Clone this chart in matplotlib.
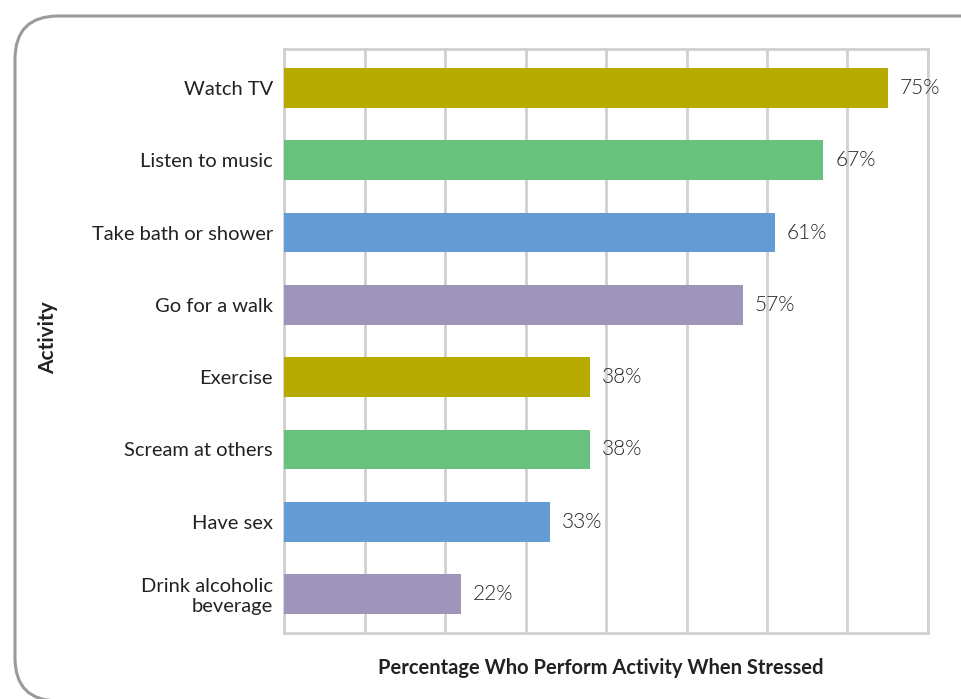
import matplotlib.pyplot as plt
from matplotlib.patches import FancyBboxPatch

activities = ["Watch TV", "Listen to music", "Take bath or shower", "Go for a walk",
              "Exercise", "Scream at others", "Have sex", "Drink alcoholic\nbeverage"]
percentages = [75, 67, 61, 57, 38, 38, 33, 22]
bar_colors = ["#b8ab00", "#68c17c", "#659bd4", "#9f94ba"] * 2

plt.rcParams['font.family'] = ['Lato', 'DejaVu Sans']

fig = plt.figure(figsize=(9.61, 6.99), dpi=100)

# rounded frame (cut off at right and bottom like the source)
frame = FancyBboxPatch((15 / 961, 1 - 701 / 699), 1.2, 685 / 699,
                       boxstyle="round,pad=0,rounding_size=0.045",
                       transform=fig.transFigure, fill=False,
                       edgecolor="#9a9a9a", linewidth=2.2, mutation_aspect=961 / 699)
fig.patches.append(frame)

ax = fig.add_axes([284 / 961, 1 - 633 / 699, (928 - 284) / 961, (633 - 49) / 699])
y = list(range(len(activities)))
ax.barh(y, percentages, height=0.55, color=bar_colors, zorder=3)

for yi, v in zip(y, percentages):
    ax.text(v + 1.5, yi, f"{v}%", va="center", ha="left", fontsize=15,
            fontweight=300, color="#222222", zorder=4)

ax.set_xlim(0, 80)
ax.set_ylim(len(activities) - 0.46, -0.54)
ax.set_xticks(range(0, 81, 10))
ax.set_xticklabels([])
ax.set_yticks(y)
ax.set_yticklabels(activities, fontsize=14.5, color="#222222")
ax.tick_params(axis="both", length=0, pad=8)
ax.grid(axis="x", color="#d0d0d0", linewidth=2, zorder=0)
for s in ax.spines.values():
    s.set_color("#d0d0d0")
    s.set_linewidth(2)

fig.text(48 / 961, 1 - 338 / 699, "Activity", rotation=90, ha="center", va="center",
         fontsize=15, fontweight="bold", color="#222222")
fig.text(601 / 961, 1 - 668 / 699, "Percentage Who Perform Activity When Stressed",
         ha="center", va="center", fontsize=14.5, fontweight="bold", color="#222222")

fig.savefig("out.png", dpi=100)
